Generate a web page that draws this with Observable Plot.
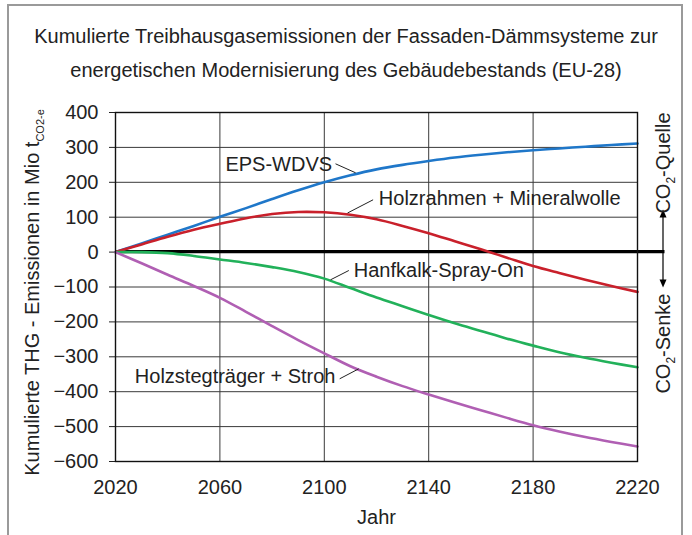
<!DOCTYPE html>
<html><head><meta charset="utf-8">
<script src="https://cdn.jsdelivr.net/npm/d3@7"></script>
<script src="https://cdn.jsdelivr.net/npm/@observablehq/plot@0.6"></script>
<style>
body{margin:0;background:#fff;font-family:"Liberation Sans",Arial,sans-serif;}
#wrap{position:relative;width:692px;height:535px;overflow:hidden;}
#frame{position:absolute;left:7px;top:4px;width:672px;height:620px;border:2px solid #9a9a9a;}
#title{position:relative;width:692px;height:100px;text-align:center;font-size:20px;line-height:34px;padding-top:19px;box-sizing:border-box;color:#222;}
#chart{position:relative;}
</style></head>
<body>
<div id="wrap">
<div id="frame"></div>
<div id="title">Kumulierte Treibhausgasemissionen der Fassaden-Dämmsysteme zur<br>energetischen Modernisierung des Gebäudebestands (EU-28)</div>
<div id="chart"></div>
</div>
<script>
const years = [2020,2030,2040,2050,2060,2070,2080,2090,2100,2110,2120,2130,2140,2150,2160,2170,2180,2190,2200,2210,2220];
const epsWdvs      = [0,25,50,75,101,126,152,177,200,220,237,250,261,271,279,286,292,297,302,307,311];
const holzrahmen   = [0,22,44,64,81,97,109,115,114,107,94,75,54,31,8,-16,-40,-60,-79,-97,-114];
const hanfkalk     = [0,0,-3,-11,-21,-31,-43,-57,-76,-103,-130,-155,-180,-204,-226,-248,-268,-287,-303,-317,-330];
const holzsteg     = [0,-32,-65,-97,-131,-171,-212,-252,-290,-327,-357,-384,-408,-431,-453,-475,-496,-514,-530,-544,-557];
const seriesNames  = ["EPS-WDVS","Holzrahmen + Mineralwolle","Hanfkalk-Spray-On","Holzstegträger + Stroh"];
const seriesColors = ["#1f77c9","#c9202b","#22b15a","#b05fb3"];
const yTicks = [-600,-500,-400,-300,-200,-100,0,100,200,300,400];
const xTicks = [2020,2060,2100,2140,2180,2220];

// label annotations (data units)
const labelText = seriesNames;
const labelX    = [2062.1, 2120.9, 2111.3, 2027.4];
const labelY    = [250, 152, -53.6, -357.3];
const leadX1 = [2104.3, 2108.9, 2102.4, 2105.9];
const leadY1 = [253.0, 112.0, -79.4, -363.0];
const leadX2 = [2112.0, 2118.7, 2109.4, 2113.2];
const leadY2 = [227.2, 149.9, -52.7, -334.4];

const seriesValues = [epsWdvs, holzrahmen, hanfkalk, holzsteg];
const data = seriesNames.flatMap((s, i) => years.map((y, j) => ({series: s, year: y, value: seriesValues[i][j]})));
const labels = labelText.map((t, i) => ({text: t, x: labelX[i], y: labelY[i]}));
const leaders = labelText.map((t, i) => ({x1: leadX1[i], y1: leadY1[i], x2: leadX2[i], y2: leadY2[i]}));

function zeroLine(index, scales, values, dimensions) {
  const {width, marginLeft, marginRight} = dimensions;
  const g = d3.create("svg:g");
  const y0 = scales.y(0);
  const ax = width - marginRight + 26;
  g.append("line").attr("x1", marginLeft).attr("x2", ax + 1.5).attr("y1", y0).attr("y2", y0)
    .attr("stroke", "#000").attr("stroke-width", 3.4);
  return g.node();
}

function annotations(index, scales, values, dimensions) {
  const {width, height, marginTop, marginBottom, marginLeft, marginRight} = dimensions;
  const g = d3.create("svg:g").attr("font-family", "'Liberation Sans', Arial, sans-serif").attr("fill", "#222").attr("text-anchor", "start");
  const y0 = scales.y(0);
  const ax = width - marginRight + 26;
  // arrows
  g.append("line").attr("x1", ax).attr("x2", ax).attr("y1", y0).attr("y2", y0 - 36).attr("stroke", "#000").attr("stroke-width", 1.2);
  g.append("line").attr("x1", ax).attr("x2", ax).attr("y1", y0).attr("y2", y0 + 30).attr("stroke", "#000").attr("stroke-width", 1.2);
  g.append("path").attr("d", `M${ax},${y0 - 42}l-3.5,8h7z`).attr("fill", "#000");
  g.append("path").attr("d", `M${ax},${y0 + 36}l-3.5,-8h7z`).attr("fill", "#000");
  // right rotated labels
  const tx = ax + 7;
  function co2(yStart, rest) {
    const t = g.append("text").attr("transform", `translate(${tx},${yStart}) rotate(-90)`).attr("text-anchor", "start").attr("font-size", 20);
    t.append("tspan").text("CO");
    t.append("tspan").attr("font-size", 12).attr("dy", 5).text("2");
    t.append("tspan").attr("dy", -5).text(rest);
  }
  co2(y0 - 38, "-Quelle");
  co2(y0 + 142, "-Senke");
  // y axis title
  const cy = (marginTop + height - marginBottom) / 2 + 6;
  const t = g.append("text").attr("transform", `translate(39,${cy}) rotate(-90)`).attr("text-anchor", "middle").attr("font-size", 20);
  t.append("tspan").text("Kumulierte THG - Emissionen in Mio t");
  t.append("tspan").attr("font-size", 11).attr("dy", 5).text("CO2-e");
  return g.node();
}

const chart = Plot.plot({
  width: 692,
  height: 435,
  marginTop: 12,
  marginBottom: 74,
  marginLeft: 115,
  marginRight: 55,
  style: {fontFamily: "'Liberation Sans', Arial, sans-serif", fontSize: "20px", color: "#222", background: "transparent", overflow: "visible"},
  x: {domain: [2020, 2220]},
  y: {domain: [-600, 400]},
  color: {domain: seriesNames, range: seriesColors},
  marks: [
    Plot.gridY(yTicks, {stroke: "#3a3a3a", strokeOpacity: 1, strokeWidth: 1}),
    Plot.gridX([2060, 2100, 2140, 2180], {stroke: "#3a3a3a", strokeOpacity: 1, strokeWidth: 1}),
    Plot.axisY(yTicks, {tickSize: 6, tickPadding: 11, label: null, fontSize: 20, stroke: "#222"}),
    Plot.axisX(xTicks, {tickSize: 0, tickPadding: 18, label: "Jahr", labelAnchor: "center", labelOffset: 62, labelArrow: "none", tickFormat: "d", fontSize: 20}),
    zeroLine,
    Plot.line(data, {x: "year", y: "value", z: "series", stroke: "series", strokeWidth: 2.6, curve: "catmull-rom"}),
    Plot.frame({stroke: "#111", strokeWidth: 1.4}),
    Plot.link(leaders, {x1: "x1", y1: "y1", x2: "x2", y2: "y2", stroke: "#222", strokeWidth: 1}),
    Plot.text(labels, {x: "x", y: "y", text: "text", textAnchor: "start", lineAnchor: "middle", fontSize: 20, fill: "#222"}),
    annotations
  ]
});
document.getElementById("chart").appendChild(chart);
</script>
</body></html>
